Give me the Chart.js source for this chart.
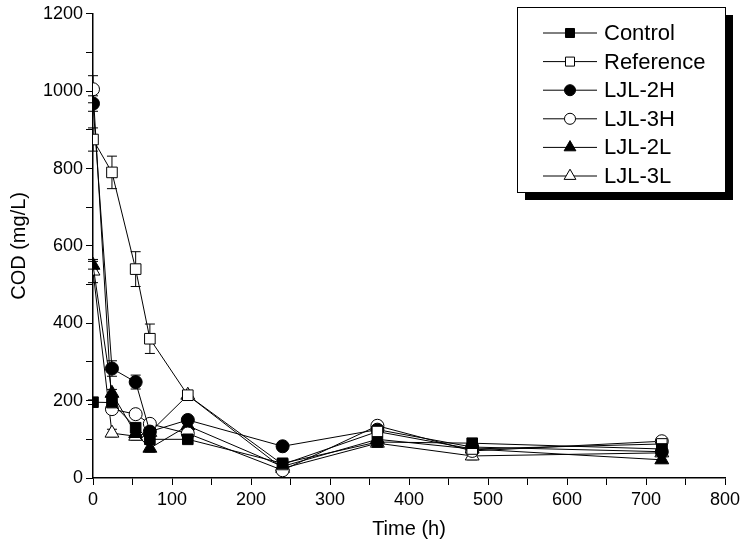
<!DOCTYPE html>
<html>
<head>
<meta charset="utf-8">
<script src="https://cdn.jsdelivr.net/npm/chart.js@4.4.0/dist/chart.umd.min.js"></script>
<style>
  html, body { margin: 0; padding: 0; background: #fff; }
  #wrap { width: 740px; height: 552px; }
</style>
</head>
<body>
<div id="wrap"><canvas id="c" width="740" height="552"></canvas></div>
<script>
// 時間點 (h)
const times = [0, 24, 54, 72, 120, 240, 360, 480, 720]

// COD (mg/L)
const control = [196, 195, 130, 100, 100, 38, 93, 90, 75]
const reference = [875, 790, 540, 360, 214, 35, 120, 75, 88]
const ljl2H = [968, 283, 248, 120, 150, 82, 125, 80, 68]
const ljl3H = [1005, 178, 165, 140, 115, 20, 135, 70, 95]
const ljl2L = [550, 219, 115, 77, 135, 30, 100, 75, 47]
const ljl3L = [535, 116, 108, 118, 214, 25, 90, 57, 65]

// 誤差線
const controlErr = [6, 8, 8, 6, 6, 6, 6, 6, 6]
const referenceErr = [30, 42, 45, 38, 10, 6, 10, 8, 10]
const ljl2HErr = [20, 20, 18, 8, 8, 8, 8, 8, 8]
const ljl3HErr = [35, 10, 8, 8, 8, 6, 8, 8, 8]
const ljl2LErr = [10, 10, 8, 10, 8, 6, 8, 8, 8]
const ljl3LErr = [30, 10, 10, 8, 8, 6, 8, 10, 8]

const xTicks = [0, 100, 200, 300, 400, 500, 600, 700, 800]
const yTicks = [0, 200, 400, 600, 800, 1000, 1200]

const FONT = "'Liberation Sans', Arial, sans-serif"

const series = [
  { label: "Control", data: control, err: controlErr, style: "rect", fill: "#000", r: 7.5 },
  { label: "Reference", data: reference, err: referenceErr, style: "rect", fill: "#fff", r: 7.5 },
  { label: "LJL-2H", data: ljl2H, err: ljl2HErr, style: "circle", fill: "#000", r: 6.5 },
  { label: "LJL-3H", data: ljl3H, err: ljl3HErr, style: "circle", fill: "#fff", r: 6.5 },
  { label: "LJL-2L", data: ljl2L, err: ljl2LErr, style: "triangle", fill: "#000", r: 8 },
  { label: "LJL-3L", data: ljl3L, err: ljl3LErr, style: "triangle", fill: "#fff", r: 8 },
]

// 誤差線外掛, 透過 scale 換算座標
const errorBars = {
  id: "errorBars",
  beforeDatasetsDraw(chart) {
    const ctx = chart.ctx
    const xs = chart.scales.x
    const ys = chart.scales.y
    ctx.save()
    ctx.strokeStyle = "#000"
    ctx.lineWidth = 1
    chart.data.datasets.forEach((ds) => {
      ds.data.forEach((p, i) => {
        const e = ds.err[i]
        const x = xs.getPixelForValue(p.x)
        const y1 = ys.getPixelForValue(p.y + e)
        const y2 = ys.getPixelForValue(Math.max(0, p.y - e))
        ctx.beginPath()
        ctx.moveTo(x, y1)
        ctx.lineTo(x, y2)
        ctx.moveTo(x - 5, y1)
        ctx.lineTo(x + 5, y1)
        ctx.moveTo(x - 5, y2)
        ctx.lineTo(x + 5, y2)
        ctx.stroke()
      })
    })
    ctx.restore()
  },
}

function drawMarker(ctx, style, x, y, r, fill) {
  ctx.beginPath()
  if (style === "rect") {
    const s = r * Math.SQRT1_2
    ctx.rect(x - s, y - s, 2 * s, 2 * s)
  } else if (style === "circle") {
    ctx.arc(x, y, r, 0, Math.PI * 2)
  } else {
    ctx.moveTo(x, y - r)
    ctx.lineTo(x + r * 0.866, y + r * 0.5)
    ctx.lineTo(x - r * 0.866, y + r * 0.5)
    ctx.closePath()
  }
  ctx.fillStyle = fill
  ctx.fill()
  ctx.strokeStyle = "#000"
  ctx.lineWidth = 1
  ctx.stroke()
}

// 右上角圖例 (含黑色陰影)
const boxLegend = {
  id: "boxLegend",
  afterDraw(chart) {
    const ctx = chart.ctx
    const L = 517, T = 7, W = 208, H = 185
    ctx.save()
    ctx.fillStyle = "#000"
    ctx.fillRect(L + 8, T + 8, W, H)
    ctx.fillStyle = "#fff"
    ctx.fillRect(L, T, W, H)
    ctx.strokeStyle = "#000"
    ctx.lineWidth = 1
    ctx.strokeRect(L + 0.5, T + 0.5, W, H)
    ctx.font = "22px " + FONT
    ctx.textBaseline = "middle"
    series.forEach((s, i) => {
      const y = T + 26 + i * 28.6
      ctx.beginPath()
      ctx.moveTo(543, y)
      ctx.lineTo(597, y)
      ctx.strokeStyle = "#000"
      ctx.stroke()
      drawMarker(ctx, s.style, 570, y, s.r * 0.85, s.fill)
      ctx.fillStyle = "#000"
      ctx.fillText(s.label, 604, y + 1)
    })
    ctx.restore()
  },
}

new Chart(document.getElementById("c"), {
  type: "line",
  data: {
    datasets: series.map((s) => ({
      label: s.label,
      data: s.data.map((v, i) => ({ x: times[i], y: v })),
      err: s.err,
      borderColor: "#000",
      borderWidth: 1,
      backgroundColor: s.fill,
      pointStyle: s.style,
      pointRadius: s.r,
      pointBackgroundColor: s.fill,
      pointBorderColor: "#000",
      pointBorderWidth: 1,
      tension: 0,
    })),
  },
  options: {
    responsive: false,
    animation: false,
    layout: { padding: { top: 12, right: 0, left: 0, bottom: 0 } },
    plugins: {
      legend: { display: false },
      tooltip: { enabled: false },
    },
    scales: {
      x: {
        type: "linear",
        min: 0,
        max: 800,
        afterBuildTicks: (scale) => {
          scale.ticks = []
          for (let v = 0; v <= 800; v += 50) scale.ticks.push({ value: v })
        },
        ticks: {
          color: "#000",
          font: { family: FONT, size: 18 },
          padding: 4,
          maxRotation: 0,
          autoSkip: false,
          callback: (v) => (xTicks.includes(v) ? String(v) : ""),
        },
        grid: { drawOnChartArea: false, color: "#000", tickLength: 7 },
        border: { color: "#000", width: 1.5 },
        title: {
          display: true,
          text: "Time (h)",
          color: "#000",
          font: { family: FONT, size: 20 },
          padding: { top: 14, bottom: 11 },
        },
        afterFit: (scale) => {
          scale.height = 74
          scale.paddingRight = 15
        },
      },
      y: {
        min: 0,
        max: 1200,
        afterBuildTicks: (scale) => {
          scale.ticks = []
          for (let v = 0; v <= 1200; v += 100) scale.ticks.push({ value: v })
        },
        ticks: {
          color: "#000",
          font: { family: FONT, size: 18 },
          padding: 3,
          autoSkip: false,
          callback: (v) => (yTicks.includes(v) ? String(v) : ""),
        },
        grid: { drawOnChartArea: false, color: "#000", tickLength: 7 },
        border: { color: "#000", width: 1.5 },
        title: {
          display: true,
          text: "COD (mg/L)",
          color: "#000",
          font: { family: FONT, size: 20 },
          padding: { top: 7, bottom: 4 },
        },
        afterFit: (scale) => { scale.width = 93 },
      },
    },
  },
  plugins: [errorBars, boxLegend],
})
</script>
</body>
</html>
